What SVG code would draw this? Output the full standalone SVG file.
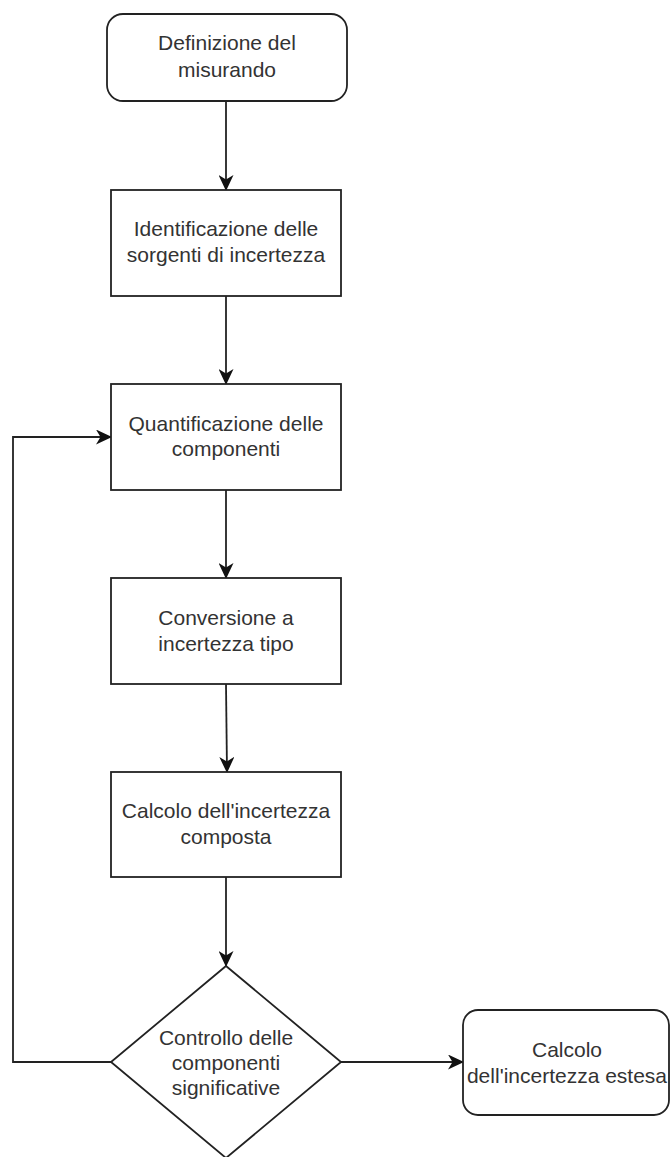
<svg xmlns="http://www.w3.org/2000/svg" width="670" height="1157" viewBox="0 0 670 1157">
  <style>
    .shape { fill: #ffffff; stroke: #222222; stroke-width: 1.8; }
    .edge { fill: none; stroke: #222222; stroke-width: 1.8; }
    .label { font-family: "Liberation Sans", Arial, sans-serif; font-size: 21px; fill: #333333; text-anchor: middle; }
  </style>
  <defs>
    <marker id="arrow" markerUnits="userSpaceOnUse" viewBox="0 0 16 15" refX="15" refY="7.5" markerWidth="16" markerHeight="15" orient="auto">
      <path d="M0,0 L16,7.5 L0,15 L4.5,7.5 Z" fill="#111111" stroke="none"/>
    </marker>
  </defs>
  <rect width="670" height="1157" fill="#ffffff"/>

  <g id="connectors">
    <path class="edge" d="M226,101 L226,190" marker-end="url(#arrow)"/>
    <path class="edge" d="M226,296 L226,384" marker-end="url(#arrow)"/>
    <path class="edge" d="M226,490 L226,578" marker-end="url(#arrow)"/>
    <path class="edge" d="M226,684 L227,772" marker-end="url(#arrow)"/>
    <path class="edge" d="M226,877 L226,966" marker-end="url(#arrow)"/>
    <path class="edge" d="M111,1062 L13,1062 L13,437 L111,437" marker-end="url(#arrow)"/>
    <path class="edge" d="M341,1062 L463,1062" marker-end="url(#arrow)"/>
  </g>

  <g id="node-definizione">
    <rect class="shape" x="107" y="14" width="240" height="87" rx="16" ry="16"/>
    <text class="label" x="227" y="50">Definizione del</text>
    <text class="label" x="227" y="77">misurando</text>
  </g>

  <g id="node-identificazione">
    <rect class="shape" x="111" y="190" width="230" height="106"/>
    <text class="label" x="226" y="236">Identificazione delle</text>
    <text class="label" x="226" y="262">sorgenti di incertezza</text>
  </g>

  <g id="node-quantificazione">
    <rect class="shape" x="111" y="384" width="230" height="106"/>
    <text class="label" x="226" y="431">Quantificazione delle</text>
    <text class="label" x="226" y="456">componenti</text>
  </g>

  <g id="node-conversione">
    <rect class="shape" x="111" y="578" width="230" height="106"/>
    <text class="label" x="226" y="625">Conversione a</text>
    <text class="label" x="226" y="651">incertezza tipo</text>
  </g>

  <g id="node-composta">
    <rect class="shape" x="111" y="772" width="230" height="105"/>
    <text class="label" x="226" y="818">Calcolo dell'incertezza</text>
    <text class="label" x="226" y="844">composta</text>
  </g>

  <g id="node-controllo">
    <polygon class="shape" points="226,966 341,1062 226,1158 111,1062"/>
    <text class="label" x="226" y="1045">Controllo delle</text>
    <text class="label" x="226" y="1070">componenti</text>
    <text class="label" x="226" y="1095">significative</text>
  </g>

  <g id="node-estesa">
    <rect class="shape" x="463" y="1010" width="206" height="105" rx="15" ry="15"/>
    <text class="label" x="567" y="1057">Calcolo</text>
    <text class="label" x="567" y="1083">dell'incertezza estesa</text>
  </g>
</svg>
